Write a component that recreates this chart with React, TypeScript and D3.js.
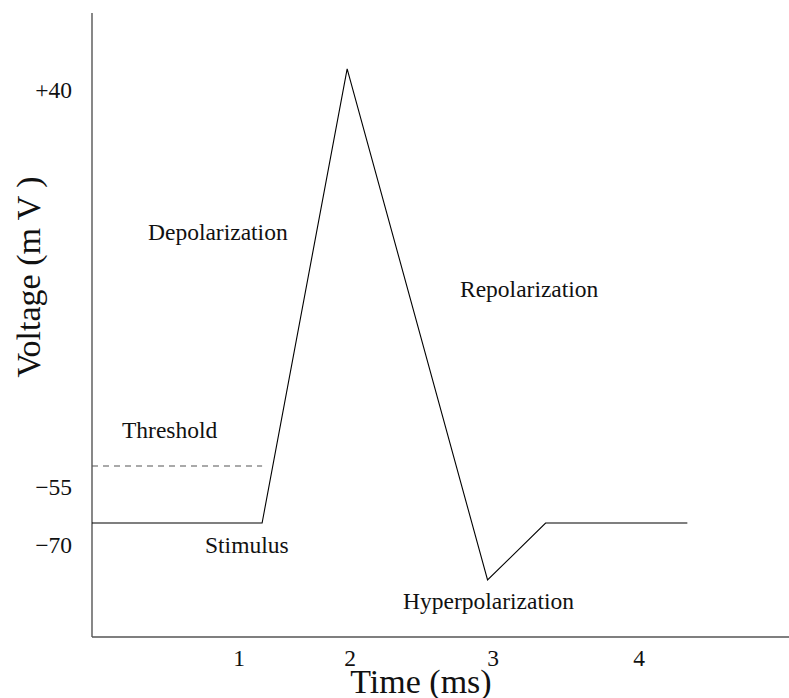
import React from "react";
import * as d3 from "d3";

// action potential trace, time in ms and voltage in mV
const timeMs = [0, 1.26, 1.89, 2.93, 3.36, 4.41];
const voltageMv = [-70, -70, 49.5, -85, -70, -70];

const thresholdTime = [0, 1.26];
const thresholdMv = -55;

const timeTicks = [1, 2, 3, 4];
const voltTicks = [40, -55, -70];
const voltTickLabels = ["+40", "\u221255", "\u221270"];

const phaseLabels = [
  "Depolarization",
  "Repolarization",
  "Threshold",
  "Stimulus",
  "Hyperpolarization",
];

const width = 789;
const height = 698;
const font = "'Liberation Serif', 'Times New Roman', Times, serif";

export default function App() {
  const x = d3.scaleLinear().domain([0, 697 / 135]).range([92, 789]);
  const y = d3.scaleLinear().domain([-100, 64.2]).range([637, 13]);

  const line = d3
    .line<number>()
    .x((_, i) => x(timeMs[i]))
    .y((v) => y(v));

  const thresholdLine = d3
    .line<number>()
    .x((t) => x(t))
    .y(() => y(thresholdMv));

  // label nudges (the labels in the original are hand placed)
  const timeNudge = [12, -12, -4, 7];
  const voltNudge = [-7, 29, 30];
  const phasePos = [
    [148, 240],
    [460, 297],
    [122, 438],
    [205, 553],
    [403, 609],
  ];

  const [x0, x1] = x.range();
  const [y0, y1] = y.range();

  return (
    <svg
      width={width}
      height={height}
      style={{ position: "absolute", left: 0, top: 0, background: "#fff" }}
      fontFamily={font}
    >
      <line x1={x0} y1={y1} x2={x0} y2={y0} stroke="#555" strokeWidth="1.4" />
      <line x1={x0} y1={y0} x2={x1} y2={y0} stroke="#555" strokeWidth="1.4" />

      <path
        d={thresholdLine(thresholdTime) ?? ""}
        fill="none"
        stroke="#555"
        strokeWidth="1.2"
        strokeDasharray="6,5"
      />
      <path
        d={line(voltageMv) ?? ""}
        fill="none"
        stroke="#000"
        strokeWidth="1.1"
      />

      {voltTicks.map((v, i) => (
        <text
          key={v}
          x={72}
          y={y(v) + voltNudge[i]}
          textAnchor="end"
          fontSize="23.5"
          fill="#111"
        >
          {voltTickLabels[i]}
        </text>
      ))}

      {timeTicks.map((t, i) => (
        <text
          key={t}
          x={x(t) + timeNudge[i]}
          y={666}
          textAnchor="middle"
          fontSize="23.5"
          fill="#111"
        >
          {t}
        </text>
      ))}

      {phaseLabels.map((s, i) => (
        <text
          key={s}
          x={phasePos[i][0]}
          y={phasePos[i][1]}
          fontSize="23.5"
          fill="#111"
        >
          {s}
        </text>
      ))}

      <text x={421} y={693} textAnchor="middle" fontSize="34" fill="#111">
        Time (ms)
      </text>
      <text
        transform="translate(40,277) rotate(-90)"
        textAnchor="middle"
        fontSize="34"
        fill="#111"
      >
        Voltage (m V )
      </text>
    </svg>
  );
}
